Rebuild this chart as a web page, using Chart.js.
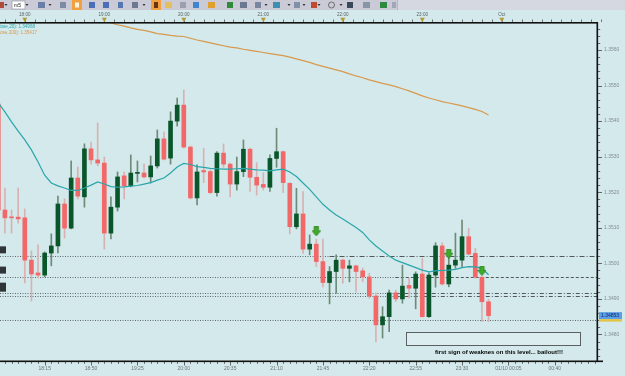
<!DOCTYPE html>
<html><head><meta charset="utf-8">
<script src="https://cdn.jsdelivr.net/npm/chart.js@4.4.1/dist/chart.umd.min.js"></script>
<style>html,body{margin:0;padding:0;background:#d3e9eb;overflow:hidden}canvas{display:block}</style>
</head><body>
<canvas id="c" width="625" height="376"></canvas>
<script>
// ---- data (5-minute candles, index 0 = 18:00) ----
const firstIndex = -4;
const open = [1.35448,1.35150,1.35130,1.35130,
 1.35128,1.35009,1.34973,1.34967,1.35029,1.35049,1.35167,1.35099,1.35240,1.35187,
 1.35322,1.35291,1.35282,1.35085,1.35158,1.35246,1.35218,1.35253,1.35254,1.35243,
 1.35274,1.35350,1.35296,1.35400,1.35445,1.35327,1.35184,1.35261,1.35258,1.35199,
 1.35310,1.35279,1.35223,1.35258,1.35321,1.35242,1.35222,1.35214,1.35295,1.35314,
 1.35225,1.35103,1.35139,1.35040,1.35054,1.35005,1.34946,1.34977,1.35009,1.34986,
 1.34993,1.34979,1.34962,1.34908,1.34827,1.34850,1.34917,1.34900,1.34938,1.34930,
 1.34970,1.34850,1.34967,1.35049,1.34942,1.34995,1.35009,1.35075,1.35028,1.34961,1.34892];
const high = [1.35459,1.35212,1.35150,1.35212,
 1.35153,1.35035,1.35052,1.35032,1.35083,1.35189,1.35181,1.35288,1.35271,1.35336,
 1.35341,1.35395,1.35299,1.35187,1.35257,1.35257,1.35305,1.35288,1.35279,1.35302,
 1.35375,1.35369,1.35426,1.35465,1.35488,1.35330,1.35277,1.35324,1.35263,1.35314,
 1.35336,1.35282,1.35299,1.35347,1.35324,1.35283,1.35255,1.35305,1.35380,1.35316,
 1.35227,1.35211,1.35202,1.35080,1.35068,1.35068,1.34991,1.35024,1.35012,1.35009,
 1.34995,1.34987,1.34972,1.34917,1.34878,1.34925,1.34925,1.34995,1.34958,1.34976,
 1.35014,1.34973,1.35058,1.35058,1.35029,1.35085,1.35122,1.35099,1.35042,1.34962,1.34899];
const low = [1.35136,1.35085,1.35085,1.35113,
 1.34945,1.34894,1.34959,1.34962,1.34993,1.35029,1.35071,1.35097,1.35181,1.35158,
 1.35279,1.35274,1.35040,1.35069,1.35147,1.35181,1.35215,1.35229,1.35240,1.35226,
 1.35268,1.35291,1.35279,1.35386,1.35324,1.35181,1.35164,1.35227,1.35196,1.35189,
 1.35270,1.35187,1.35206,1.35244,1.35202,1.35192,1.35206,1.35202,1.35270,1.35199,
 1.35083,1.35097,1.35028,1.35024,1.34991,1.34934,1.34886,1.34916,1.34944,1.34948,
 1.34920,1.34948,1.34902,1.34779,1.34790,1.34808,1.34892,1.34888,1.34902,1.34872,
 1.34849,1.34848,1.34933,1.34939,1.34934,1.34986,1.34991,1.35024,1.34958,1.34836,1.34836];
const close = [1.35150,1.35128,1.35128,1.35125,
 1.35009,1.34970,1.34967,1.35029,1.35049,1.35167,1.35099,1.35240,1.35189,1.35322,
 1.35291,1.35282,1.35085,1.35158,1.35243,1.35218,1.35254,1.35254,1.35243,1.35274,
 1.35350,1.35293,1.35400,1.35445,1.35327,1.35184,1.35257,1.35257,1.35199,1.35310,
 1.35279,1.35223,1.35258,1.35321,1.35242,1.35220,1.35214,1.35295,1.35314,1.35227,
 1.35103,1.35139,1.35040,1.35054,1.35005,1.34946,1.34977,1.35009,1.34986,1.34993,
 1.34977,1.34962,1.34908,1.34827,1.34850,1.34917,1.34900,1.34936,1.34930,1.34970,
 1.34850,1.34967,1.35049,1.34942,1.34995,1.35009,1.35075,1.35026,1.34961,1.34892,1.34853];
const ma20 = [1.35451,1.35426,1.35398,1.35372,
 1.35347,1.35319,1.35285,1.35248,1.35226,1.35218,1.35212,1.35205,1.35205,1.35212,
 1.35220,1.35229,1.35223,1.35216,1.35214,1.35215,1.35217,1.35219,1.35223,1.35227,
 1.35234,1.35240,1.35254,1.35271,1.35281,1.35278,1.35272,1.35270,1.35267,1.35266,
 1.35265,1.35265,1.35266,1.35267,1.35265,1.35263,1.35262,1.35260,1.35263,1.35265,
 1.35257,1.35244,1.35226,1.35208,1.35187,1.35166,1.35150,1.35136,1.35125,1.35113,
 1.35101,1.35087,1.35066,1.35049,1.35035,1.35021,1.35009,1.35002,1.34995,1.34988,
 1.34981,1.34976,1.34979,1.34980,1.34981,1.34983,1.34988,1.34991,1.34990,1.34986,1.34968];
const ma200Start = 12;
const ma200 = [1.35680,1.35676,1.35671,1.35667,1.35662,1.35658,1.35655,1.35651,
 1.35646,1.35644,1.35641,1.35639,1.35638,1.35633,1.35628,1.35624,1.35620,1.35616,
 1.35612,1.35608,1.35606,1.35602,1.35599,1.35596,1.35593,1.35590,1.35587,1.35584,
 1.35580,1.35575,1.35570,1.35565,1.35559,1.35554,1.35549,1.35544,1.35539,1.35533,
 1.35527,1.35522,1.35516,1.35511,1.35506,1.35502,1.35497,1.35491,1.35485,1.35478,
 1.35471,1.35465,1.35460,1.35455,1.35451,1.35447,1.35443,1.35438,1.35433,1.35427,1.35417];
const bottomTickPos = [3,10,17,24,31,38,45,52,59,66,73,80];
const bottomTickLabels = ["18:15","18:50","19:25","20:00","20:35","21:10","21:45","22:20","22:55","23:30","01/10 00:05","00:40"];
const topTickPos = [0,12,24,36,48,60,72];
const topTickLabels = ["18:00","19:00","20:00","21:00","22:00","23:00","Oct"];
const priceTicks = [1.3480,1.3490,1.3500,1.3510,1.3520,1.3530,1.3540,1.3550,1.3560];
const levels = [1.35020,1.34961,1.34916,1.34909,1.34842];
const leftTags = [1.35038,1.34981,1.34933];
const arrowIdx = [44,64,69];
const arrowPrice = [1.35090,1.35027,1.34979];
const lastPrice = 1.34853;
const maLabels = ["MA(Close,20): 1.34968","MA(Close,200): 1.35417"];
const note = "first sign of weaknes on this level... bailout!!!";

// ---- build datasets ----
const upBodies=[],downBodies=[],upWicks=[],downWicks=[];
open.forEach((o,k)=>{
  const i=firstIndex+k, c=close[k], up=c>=o;
  (up?upBodies:downBodies).push({x:i,y:[o,c]});
  (up?upWicks:downWicks).push({x:i,y:[low[k],high[k]]});
});
const ma20Pts = ma20.map((v,k)=>({x:firstIndex+k,y:v}));
const ma200Pts = ma200.map((v,k)=>({x:ma200Start+k,y:v}));
const arrowPts = arrowIdx.map((i,k)=>({x:i,y:arrowPrice[k]}));

const arrowImg=document.createElement('canvas'); arrowImg.width=9; arrowImg.height=10;
(function(){const g=arrowImg.getContext('2d');
  g.fillStyle='#3daa28'; g.strokeStyle='#2a7f1a'; g.lineWidth=0.8;
  g.beginPath(); g.moveTo(2.3,0.5); g.lineTo(6.7,0.5); g.lineTo(6.7,4.5); g.lineTo(8.7,4.5);
  g.lineTo(4.5,9.6); g.lineTo(0.3,4.5); g.lineTo(2.3,4.5); g.closePath(); g.fill(); g.stroke();})();

const BG='#d3e9eb';
const XMIN=-3.743, XMAX=86.370, YMIN=1.347254, YMAX=1.356759;
const FONT="'Liberation Sans', Arial, sans-serif";

function seg(c,x1,y1,x2,y2){c.beginPath();c.moveTo(x1,y1);c.lineTo(x2,y2);c.stroke();}
function tri(c,x,y){c.beginPath();c.moveTo(x-1.5,y);c.lineTo(x+1.5,y);c.lineTo(x,y+2);c.closePath();c.fill();}

function toolbar(c){
  c.fillStyle='#cacbd7'; c.fillRect(0,0,398,10);
  c.fillStyle='#d6d8e1'; c.fillRect(398,0,227,10);
  c.fillStyle='#b3b5c4'; c.fillRect(397,0,1,10);
  c.fillStyle='#f2a13e'; c.fillRect(72,0,10,10); c.fillRect(151,0,10,10);
  c.fillStyle='#fff4e0'; c.fillRect(75,2.5,4,5);
  c.fillStyle='#6a3410'; c.fillRect(154,2,4,6);
  c.fillStyle='#ffffff'; c.fillRect(12,1,13,8); c.strokeStyle='#8a8c99'; c.lineWidth=0.6; c.strokeRect(12,1,13,8);
  c.fillStyle='#222'; c.font="5px "+FONT; c.textBaseline='middle'; c.fillText('m5',14,5.2);
  const icons=[[0,4,'#b04a3a'],[38,7,'#6a7fa8'],[60,6,'#7d8aa3'],[89,6,'#4a6fb5'],[103,6,'#4a6fb5'],
    [118,5,'#5578b0'],[132,6,'#6c7a90'],[165,7,'#e2c060'],[180,6,'#9aa0b0'],[193,6,'#3f86d0'],
    [208,7,'#e0a030'],[227,6,'#2f8a3a'],[240,7,'#6a7890'],[255,6,'#7a86a0'],[273,7,'#3f90b0'],
    [294,6,'#8090a8'],[311,6,'#c04a30'],[347,6,'#3a4a5a'],[363,7,'#8a94a8'],[380,7,'#2e8a3e'],[392,4,'#a0a6b8']];
  icons.forEach(([x,w,col])=>{c.fillStyle=col; c.fillRect(x,2,w,6);});
  c.strokeStyle='#555'; c.lineWidth=0.8; c.beginPath(); c.arc(331.5,5,3,0,Math.PI*2); c.stroke();
  c.fillStyle='#333';
  [6,27,50,144,266,289,304,319,341].forEach(x=>tri(c,x,4));
}

const decor={
  id:'decor',
  beforeDraw(chart){const c=chart.ctx; c.save(); c.fillStyle=BG; c.fillRect(0,0,625,376); c.restore();},
  beforeDatasetsDraw(chart){
    const c=chart.ctx,a=chart.chartArea,y=chart.scales.y,x=chart.scales.x;
    c.save(); c.beginPath(); c.rect(a.left,a.top,a.right-a.left,a.bottom-a.top); c.clip();
    c.lineWidth=1;
    levels.forEach(p=>{
      const yy=Math.round(y.getPixelForValue(p))+0.5;
      c.strokeStyle='#5f676b'; c.setLineDash([1,1.5]); seg(c,a.left,yy,a.right,yy);
    });
    c.fillStyle=BG;
    const right=[[0,46,[5,2,1,2]],[1,56,[3,2]],[2,56,[4,2,1,2]],[3,56,[4,2,1,2]]];
    right.forEach(([k,i0,dash])=>{
      const yy=Math.round(y.getPixelForValue(levels[k]))+0.5, x0=x.getPixelForValue(i0);
      c.fillRect(x0,yy-0.5,a.right-x0,1);
      c.strokeStyle='#50585c'; c.setLineDash(dash); seg(c,x0,yy,a.right,yy);
    });
    c.restore();
  },
  afterDraw(chart){
    const c=chart.ctx,a=chart.chartArea,y=chart.scales.y,x=chart.scales.x;
    c.save();
    toolbar(c);
    c.fillStyle='#111';
    c.fillRect(0,a.top-1,a.right+1,1.6);
    c.fillRect(0,a.bottom-0.5,a.right+6,1.6);
    c.fillRect(a.right-0.5,a.top-1,1.6,a.bottom-a.top+2);
    c.strokeStyle='#555'; c.lineWidth=0.8;
    for(let i=-3;i<=87;i+=1.5){const px=Math.round(x.getPixelForValue(i))+0.5; if(px>a.right+6)break; if(px<0)continue; seg(c,px,a.top-3.5,px,a.top-1);}
    c.fillStyle='#b59a3a';
    topTickPos.forEach(i=>{const px=x.getPixelForValue(i); c.beginPath(); c.moveTo(px-2.5,17.8); c.lineTo(px+2.5,17.8); c.lineTo(px,22.3); c.closePath(); c.fill();});
    c.strokeStyle='#444'; c.lineWidth=0.8;
    for(let i=-3;i<=86;i++){const px=Math.round(x.getPixelForValue(i))+0.5; const major=(i-3)%7===0; seg(c,px,a.bottom+1,px,a.bottom+(major?4.5:2.8));}
    for(let k=6737;k<=6783;k++){const p=k/5000; const py=Math.round(y.getPixelForValue(p))+0.5; if(py<a.top||py>a.bottom)continue; const major=k%5===0; seg(c,a.right+1,py,a.right+(major?5:3.2),py);}
    c.font="4.6px "+FONT; c.textBaseline='middle'; c.textAlign='right';
    c.fillStyle='#2aa6aa'; c.fillText(maLabels[0],35,27);
    c.fillStyle='#d8994c'; c.fillText(maLabels[1],37,32.5);
    c.fillStyle='#303638';
    leftTags.forEach((p,k)=>{const py=y.getPixelForValue(p); const h=k===2?9:7; c.fillRect(0,py-h/2,6,h);});
    c.strokeStyle='#5a5f62'; c.lineWidth=1; c.setLineDash([]);
    c.fillStyle='rgba(235,245,246,0.35)'; c.fillRect(406.5,332.5,174,13); c.strokeRect(406.5,332.5,174,13);
    c.fillStyle='#000'; c.font="bold 6px "+FONT; c.textAlign='left'; c.fillText(note,435,352.5);
    const ly=y.getPixelForValue(lastPrice);
    c.fillStyle='#5a9fe6'; c.fillRect(599,ly-3.5,23,7);
    c.fillStyle='#e3c447'; c.fillRect(599,ly+3.5,23,2.5);
    c.fillStyle='#0c1f66'; c.font="5px "+FONT; c.fillText(lastPrice.toFixed(5),601,ly+0.3);
    c.restore();
  }
};

function noPad(s,h){s.height=h; s.paddingLeft=0; s.paddingRight=0;}

new Chart(document.getElementById('c'),{
  type:'bar',
  data:{datasets:[
    {type:'scatter',data:arrowPts,pointStyle:arrowImg,pointRadius:5,order:-1},
    {type:'line',data:ma200Pts,borderColor:'#d8994c',borderWidth:1.2,pointRadius:0,tension:0,clip:0,order:0},
    {type:'line',data:ma20Pts,borderColor:'#2aa6aa',borderWidth:1.2,pointRadius:0,tension:0,clip:0,order:0},
    {data:upBodies,backgroundColor:'#0a562b',barThickness:4,grouped:false,minBarLength:1,order:1},
    {data:downBodies,backgroundColor:'#f26767',barThickness:4,grouped:false,minBarLength:1,order:1},
    {data:upWicks,backgroundColor:'#6d8b79',barThickness:1,grouped:false,order:2},
    {data:downWicks,backgroundColor:'#d8b2b2',barThickness:1,grouped:false,order:2}
  ]},
  options:{
    responsive:false,animation:false,devicePixelRatio:1,
    layout:{padding:0,autoPadding:false},
    plugins:{legend:{display:false},tooltip:{enabled:false}},
    scales:{
      x:{type:'linear',position:'bottom',min:XMIN,max:XMAX,offset:false,
        grid:{display:false,drawTicks:false},border:{display:false},
        afterBuildTicks:s=>{s.ticks=bottomTickPos.map(v=>({value:v}));},
        afterFit:s=>noPad(s,15),
        ticks:{autoSkip:false,maxRotation:0,minRotation:0,padding:5,color:'#6c7476',font:{size:5,family:FONT},
          callback:v=>{const k=bottomTickPos.indexOf(v);return k>=0?bottomTickLabels[k]:'';}}},
      xTop:{type:'linear',position:'top',min:XMIN,max:XMAX,offset:false,
        grid:{display:false,drawTicks:false},border:{display:false},
        afterBuildTicks:s=>{s.ticks=topTickPos.map(v=>({value:v}));},
        afterFit:s=>noPad(s,23),
        ticks:{autoSkip:false,maxRotation:0,minRotation:0,padding:6,color:'#5c6466',font:{size:4.6,family:FONT},
          callback:v=>{const k=topTickPos.indexOf(v);return k>=0?topTickLabels[k]:'';}}},
      y:{type:'linear',position:'right',min:YMIN,max:YMAX,
        grid:{display:false,drawTicks:false},border:{display:false},
        afterBuildTicks:s=>{s.ticks=priceTicks.map(v=>({value:v}));},
        afterFit:s=>{s.width=28; s.paddingTop=0; s.paddingBottom=0;},
        ticks:{padding:7,color:'#848c8f',font:{size:5,family:FONT},callback:v=>v.toFixed(4)}}
    }
  },
  plugins:[decor]
});
</script>
</body></html>
